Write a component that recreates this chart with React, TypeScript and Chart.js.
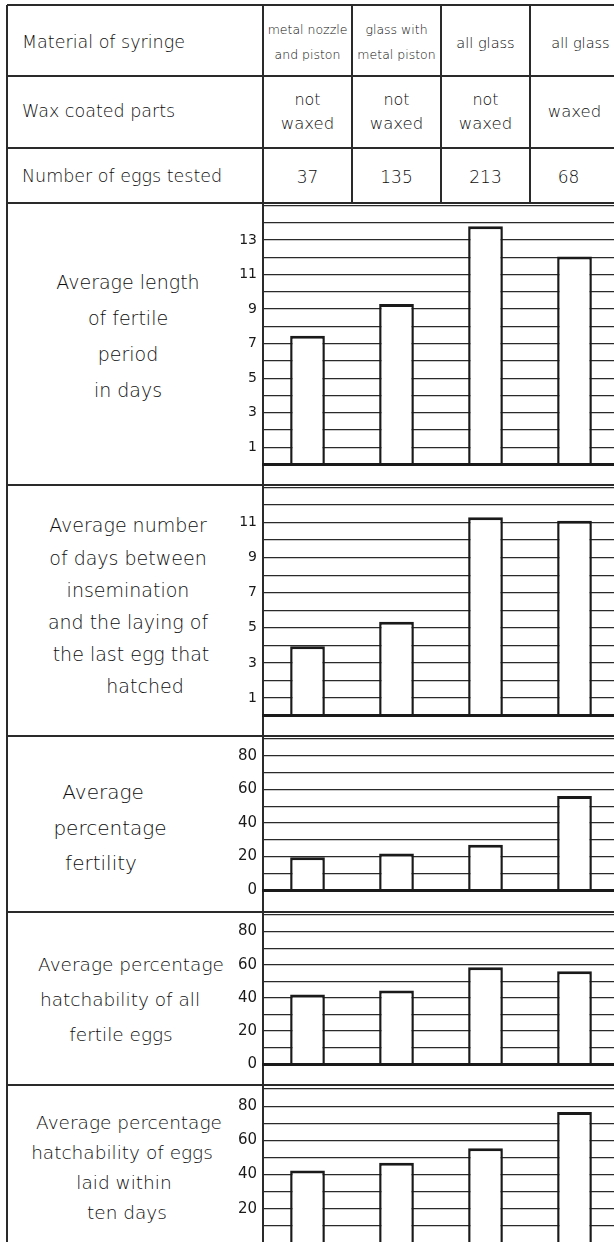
import React, { useEffect, useRef } from "react";
import { Chart, registerables } from "chart.js";

Chart.register(...registerables);

// ---------------- data ----------------
const categoryNames = [
  "metal nozzle and piston",
  "glass with metal piston",
  "all glass (not waxed)",
  "all glass (waxed)",
];
const syringeMaterial = [
  ["metal nozzle", "and piston"],
  ["glass with", "metal piston"],
  ["all glass"],
  ["all glass"],
];
const waxCoatedParts = [["not", "waxed"], ["not", "waxed"], ["not", "waxed"], ["waxed"]];
const eggsTested = [37, 135, 213, 68];

const fertilePeriodDays = [7.45, 9.3, 13.8, 12.05];
const daysToLastHatchedEgg = [3.95, 5.35, 11.3, 11.1];
const pctFertility = [19.5, 21.7, 26.9, 56];
const pctHatchAllFertile = [42, 44.4, 58.5, 56];
const pctHatchTenDays = [42.3, 46.9, 55.4, 76.6];

const daysTicksPanel1 = [1, 3, 5, 7, 9, 11, 13];
const daysTicksPanel2 = [1, 3, 5, 7, 9, 11];
const pctTicks = [0, 20, 40, 60, 80];
const pctTicksClipped = [20, 40, 60, 80];

const label1 = ["Average length", "of fertile", "period", "in days"];
const label2 = [
  "Average number",
  "of days between",
  "insemination",
  "and the laying of",
  "the last egg that",
  "hatched",
];
const label3 = ["Average", "percentage", "fertility"];
const label4 = ["Average percentage", "hatchability of all", "fertile eggs"];
const label5 = ["Average percentage", "hatchability of eggs", "laid within", "ten days"];

// ---------------- layout ----------------
const FONT = '"DejaVu Sans", "Noto Sans", sans-serif';
const INK = "#1a1a1a";
const TEXT_INK = "#0d0d0d";
const LINE = "#2a2a2a";
const TABLE_LEFT = 7;
const TABLE_TOP = 5;
const AXIS_X = 263;
const RIGHT_X = 619;
const COL_W = 89;
const PAD = 12;
const Y_AXIS_W = 60;
const HEADER_ROWS = [76, 148, 203];
const PANEL_SEPS = [485, 736, 912, 1085];

type Panel = {
  values: number[];
  max: number;
  step: number;
  tickLabels: number[];
  tickSize: number;
  top: number;
  bottom: number;
  text: string[];
  textX: number[];
  textY: number[];
  textSize: number;
};

const panels: Panel[] = [
  {
    values: fertilePeriodDays, max: 15, step: 1, tickLabels: daysTicksPanel1, tickSize: 14,
    top: 203, bottom: 467, text: label1,
    textX: [128, 128, 128, 128], textY: [282, 318, 354, 390], textSize: 19,
  },
  {
    values: daysToLastHatchedEgg, max: 13, step: 1, tickLabels: daysTicksPanel2, tickSize: 14,
    top: 485, bottom: 718, text: label2,
    textX: [128, 128, 128, 128, 131, 145], textY: [525, 558, 590, 622, 654, 686], textSize: 19,
  },
  {
    values: pctFertility, max: 90, step: 10, tickLabels: pctTicks, tickSize: 15,
    top: 736, bottom: 893, text: label3,
    textX: [103, 110, 101], textY: [792, 828, 863], textSize: 20,
  },
  {
    values: pctHatchAllFertile, max: 90, step: 10, tickLabels: pctTicks, tickSize: 15,
    top: 912, bottom: 1067, text: label4,
    textX: [131, 120, 121], textY: [965, 1000, 1035], textSize: 18.5,
  },
  {
    values: pctHatchTenDays, max: 90, step: 10, tickLabels: pctTicksClipped, tickSize: 15,
    top: 1086, bottom: 1246, text: label5,
    textX: [129, 122, 124, 127], textY: [1123, 1153, 1183, 1213], textSize: 18.5,
  },
];

function BarPanel({ p }: { p: Panel }) {
  const ref = useRef<HTMLCanvasElement>(null);
  useEffect(() => {
    const canvas = ref.current;
    if (!canvas) return;
    const chart = new Chart(canvas, {
      type: "bar",
      data: {
        labels: categoryNames,
        datasets: [
          {
            data: p.values,
            backgroundColor: "#ffffff",
            borderColor: INK,
            borderWidth: { top: 3, left: 2.5, right: 2.5, bottom: 0 },
            borderSkipped: "start",
            barPercentage: 0.39,
            categoryPercentage: 1,
          },
        ],
      },
      options: {
        responsive: false,
        animation: false,
        devicePixelRatio: 1,
        layout: { padding: { top: PAD, bottom: PAD, left: 0, right: 0 } },
        plugins: {
          legend: { display: false },
          tooltip: { enabled: false },
          title: { display: false },
        },
        scales: {
          x: {
            display: true,
            grid: { display: false },
            ticks: { display: false },
            border: { display: true, color: INK, width: 3, z: 1 },
            afterFit: (s: any) => {
              s.height = 0;
            },
          },
          y: {
            min: 0,
            max: p.max,
            afterFit: (s: any) => {
              s.width = Y_AXIS_W;
            },
            ticks: {
              stepSize: p.step,
              autoSkip: false,
              padding: 6,
              color: INK,
              font: { family: FONT, size: p.tickSize },
              callback: (v: any) => (p.tickLabels.includes(Number(v)) ? String(v) : ""),
            },
            grid: { color: LINE, lineWidth: 1.2, drawTicks: false },
            border: { display: false },
          },
        },
      },
    } as any);
    return () => chart.destroy();
  }, [p]);
  return (
    <canvas
      ref={ref}
      width={RIGHT_X - AXIS_X + Y_AXIS_W}
      height={p.bottom - p.top + 2 * PAD}
      style={{
        position: "absolute",
        left: AXIS_X - Y_AXIS_W,
        top: p.top - PAD,
        width: RIGHT_X - AXIS_X + Y_AXIS_W,
        height: p.bottom - p.top + 2 * PAD,
      }}
    />
  );
}

function HLine({ y, x1, x2 }: { y: number; x1: number; x2: number }) {
  return (
    <div
      style={{ position: "absolute", left: x1, top: y - 0.75, width: x2 - x1, height: 1.5, background: LINE }}
    />
  );
}
function VLine({ x, y1, y2 }: { x: number; y1: number; y2: number }) {
  return (
    <div
      style={{ position: "absolute", left: x - 0.75, top: y1, width: 1.5, height: y2 - y1, background: LINE }}
    />
  );
}
function CText({ x, y, size, children }: { x: number; y: number; size: number; children: any }) {
  return (
    <div
      style={{
        position: "absolute",
        left: x,
        top: y,
        transform: "translate(-50%, -50%)",
        whiteSpace: "nowrap",
        fontSize: size,
        lineHeight: 1,
      }}
    >
      {children}
    </div>
  );
}
function LText({ x, y, size, children }: { x: number; y: number; size: number; children: any }) {
  return (
    <div
      style={{
        position: "absolute",
        left: x,
        top: y,
        transform: "translateY(-50%)",
        whiteSpace: "nowrap",
        fontSize: size,
        lineHeight: 1,
      }}
    >
      {children}
    </div>
  );
}

export default function App() {
  const colCenter = (i: number) => AXIS_X + COL_W * (i + 0.5);
  return (
    <div
      style={{
        position: "relative",
        width: 614,
        height: 1242,
        overflow: "hidden",
        background: "#ffffff",
        fontFamily: FONT,
        fontWeight: 200,
        color: TEXT_INK,
      }}
    >
      <style>{`html,body{margin:0;padding:0;overflow:hidden;background:#fff}`}</style>

      {/* table lines */}
      <HLine y={TABLE_TOP} x1={TABLE_LEFT} x2={614} />
      {HEADER_ROWS.map((y) => (
        <HLine key={"h" + y} y={y} x1={TABLE_LEFT} x2={614} />
      ))}
      {PANEL_SEPS.map((y) => (
        <HLine key={"s" + y} y={y} x1={TABLE_LEFT} x2={614} />
      ))}
      <VLine x={TABLE_LEFT} y1={TABLE_TOP} y2={1242} />
      <VLine x={AXIS_X} y1={TABLE_TOP} y2={1242} />
      {[1, 2, 3].map((i) => (
        <VLine key={"v" + i} x={AXIS_X + COL_W * i} y1={TABLE_TOP} y2={HEADER_ROWS[2]} />
      ))}

      {/* header */}
      <LText x={22} y={43} size={17.5}>Material of syringe</LText>
      <LText x={22} y={112} size={17.5}>Wax coated parts</LText>
      <LText x={22} y={177} size={17.5}>Number of eggs tested</LText>
      {syringeMaterial.map((lines, i) =>
        lines.length === 2 ? (
          <React.Fragment key={"m" + i}>
            <CText x={colCenter(i)} y={30} size={12.5}>{lines[0]}</CText>
            <CText x={colCenter(i)} y={55} size={12.5}>{lines[1]}</CText>
          </React.Fragment>
        ) : (
          <CText key={"m" + i} x={colCenter(i) + (i === 3 ? 6 : 0)} y={43} size={14.5}>{lines[0]}</CText>
        )
      )}
      {waxCoatedParts.map((lines, i) =>
        lines.length === 2 ? (
          <React.Fragment key={"w" + i}>
            <CText x={colCenter(i)} y={100} size={16}>{lines[0]}</CText>
            <CText x={colCenter(i)} y={124} size={16.5}>{lines[1]}</CText>
          </React.Fragment>
        ) : (
          <CText key={"w" + i} x={colCenter(i)} y={112} size={16.5}>{lines[0]}</CText>
        )
      )}
      {eggsTested.map((n, i) => (
        <CText key={"e" + i} x={colCenter(i) - (i === 3 ? 6 : 0)} y={177} size={17}>{String(n)}</CText>
      ))}

      {/* panel labels */}
      {panels.map((p, pi) =>
        p.text.map((t, li) => (
          <CText key={"t" + pi + "_" + li} x={p.textX[li]} y={p.textY[li]} size={p.textSize}>
            {t}
          </CText>
        ))
      )}

      {/* charts */}
      {panels.map((p, pi) => (
        <BarPanel key={"c" + pi} p={p} />
      ))}
    </div>
  );
}
